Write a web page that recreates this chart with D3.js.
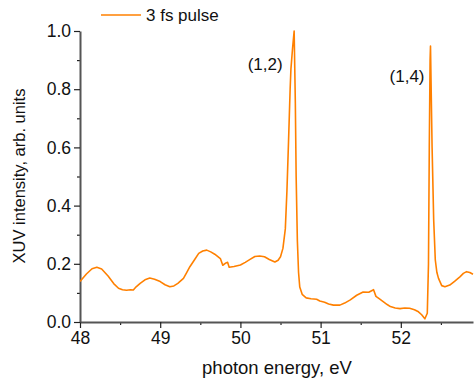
<!DOCTYPE html>
<html>
<head>
<meta charset="utf-8">
<script src="https://cdn.jsdelivr.net/npm/d3@7"></script>
<style>
  body { margin: 0; background: #fff; }
  svg { font-family: "Liberation Sans", Arial, sans-serif; }
</style>
</head>
<body>
<div id="chart"></div>
<script>
// photon energy (eV) and XUV intensity (arb. units)
const energy = [
  48.00, 48.08, 48.15, 48.21, 48.27, 48.35, 48.42, 48.48, 48.53, 48.58,
  48.63, 48.665, 48.70, 48.75, 48.81, 48.87, 48.93, 49.00, 49.06, 49.12,
  49.17, 49.22, 49.29, 49.33, 49.37, 49.43, 49.48, 49.53, 49.58, 49.63,
  49.68, 49.75, 49.78, 49.82, 49.84, 49.86, 49.92, 50.00, 50.06, 50.12,
  50.18, 50.24, 50.30, 50.36, 50.43, 50.47, 50.50, 50.53, 50.56, 50.58,
  50.60, 50.62, 50.63, 50.65, 50.67, 50.685, 50.695, 50.71, 50.725, 50.74,
  50.77, 50.82, 50.88, 50.95, 50.99, 51.05, 51.10, 51.16, 51.24, 51.30,
  51.37, 51.45, 51.53, 51.60, 51.66, 51.69, 51.73, 51.78, 51.83, 51.87,
  51.93, 51.99, 52.05, 52.11, 52.17, 52.22, 52.26, 52.30, 52.33, 52.345,
  52.355, 52.365, 52.37, 52.39, 52.41, 52.43, 52.45, 52.47, 52.51, 52.55,
  52.61, 52.67, 52.74, 52.78, 52.82, 52.86, 52.90
];
const intensity = [
  0.139, 0.165, 0.183, 0.188, 0.182, 0.158, 0.132, 0.116, 0.111, 0.109,
  0.111, 0.110, 0.121, 0.133, 0.145, 0.151, 0.147, 0.139, 0.128, 0.121,
  0.124, 0.133, 0.150, 0.170, 0.190, 0.215, 0.236, 0.244, 0.247, 0.241,
  0.233, 0.218, 0.195, 0.203, 0.205, 0.188, 0.191, 0.196, 0.205, 0.215,
  0.225, 0.227, 0.224, 0.215, 0.206, 0.212, 0.224, 0.253, 0.320, 0.450,
  0.620, 0.800, 0.870, 0.940, 1.000, 0.750, 0.500, 0.280, 0.170, 0.120,
  0.095, 0.083, 0.080, 0.078, 0.072, 0.068, 0.062, 0.058, 0.058, 0.065,
  0.076, 0.092, 0.103, 0.102, 0.111, 0.088, 0.080, 0.070, 0.060, 0.053,
  0.048, 0.046, 0.048, 0.047, 0.042, 0.035, 0.025, 0.011, 0.030, 0.200,
  0.600, 0.900, 0.948, 0.600, 0.350, 0.213, 0.170, 0.150, 0.125, 0.121,
  0.127, 0.140, 0.156, 0.167, 0.173, 0.170, 0.164
];
const xTicks = [48, 49, 50, 51, 52];
const yTicks = [0.0, 0.2, 0.4, 0.6, 0.8, 1.0];
const peakLabels = ["(1,2)", "(1,4)"];
const peakLabelPos = [[50.09, 0.866], [51.86, 0.825]];
const seriesName = "3 fs pulse";

const width = 474;
const height = 382;
const margin = { top: 31, right: 1, bottom: 60, left: 80 };
const lineColor = "#ff8000";
const axisColor = "#555";

const svg = d3.select("#chart")
  .append("svg")
  .attr("width", width)
  .attr("height", height);

const x = d3.scaleLinear()
  .domain([48, 52.9])
  .range([margin.left, width - margin.right]);

const y = d3.scaleLinear()
  .domain([0, 1])
  .range([height - margin.bottom, margin.top]);

// minor ticks first, then major ticks with labels
const xMinor = d3.range(48.5, 52.9, 1);
const yMinor = d3.range(0.1, 1.0, 0.2);

svg.append("g")
  .attr("transform", "translate(0," + y(0) + ")")
  .call(d3.axisBottom(x).tickValues(xMinor).tickSize(3).tickFormat(""))
  .call(g => g.select(".domain").remove())
  .selectAll("line").attr("stroke", "#222").attr("stroke-width", 1.2);

svg.append("g")
  .attr("transform", "translate(" + x(48) + ",0)")
  .call(d3.axisLeft(y).tickValues(yMinor).tickSize(3).tickFormat(""))
  .call(g => g.select(".domain").remove())
  .selectAll("line").attr("stroke", "#222").attr("stroke-width", 1.2);

const xAxis = svg.append("g")
  .attr("transform", "translate(0," + y(0) + ")")
  .call(d3.axisBottom(x).tickValues(xTicks).tickSize(6).tickPadding(4).tickFormat(d3.format("d")).tickSizeOuter(0));

const yAxis = svg.append("g")
  .attr("transform", "translate(" + x(48) + ",0)")
  .call(d3.axisLeft(y).tickValues(yTicks).tickSize(6).tickPadding(3).tickFormat(d3.format(".1f")).tickSizeOuter(0));

[xAxis, yAxis].forEach(g => {
  g.select(".domain").attr("stroke", axisColor).attr("stroke-width", 2);
  g.selectAll(".tick line").attr("stroke", "#222").attr("stroke-width", 1.2);
  g.selectAll(".tick text")
    .attr("fill", "#111")
    .style("font-size", "17.5px")
    .style("font-family", "'Liberation Sans', Arial, sans-serif");
});

svg.append("clipPath")
  .attr("id", "plot-clip")
  .append("rect")
  .attr("x", margin.left)
  .attr("y", 0)
  .attr("width", width - margin.left)
  .attr("height", y(0));

const points = energy.map((e, i) => [e, intensity[i]]);

const line = d3.line()
  .x(d => x(d[0]))
  .y(d => y(d[1]));

svg.append("path")
  .datum(points)
  .attr("clip-path", "url(#plot-clip)")
  .attr("fill", "none")
  .attr("stroke", lineColor)
  .attr("stroke-width", 1.6)
  .attr("stroke-linejoin", "round")
  .attr("d", line);

// peak annotations
svg.selectAll(".peak-label")
  .data(peakLabels)
  .enter().append("text")
  .attr("class", "peak-label")
  .attr("x", (d, i) => x(peakLabelPos[i][0]))
  .attr("y", (d, i) => y(peakLabelPos[i][1]))
  .attr("text-anchor", "start")
  .style("font-size", "17px")
  .attr("fill", "#111")
  .text(d => d);

// legend
const legend = svg.append("g")
  .attr("transform", "translate(101,15)");

legend.append("line")
  .attr("x1", 0)
  .attr("x2", 40)
  .attr("y1", 0)
  .attr("y2", 0)
  .attr("stroke", lineColor)
  .attr("stroke-width", 1.6);

legend.append("text")
  .attr("x", 45)
  .attr("y", 6)
  .style("font-size", "17px")
  .attr("fill", "#111")
  .text(seriesName);

// axis titles
svg.append("text")
  .attr("x", 277)
  .attr("y", 374)
  .attr("text-anchor", "middle")
  .style("font-size", "18.5px")
  .attr("fill", "#111")
  .text("photon energy, eV");

svg.append("text")
  .attr("transform", "translate(25,176) rotate(-90)")
  .attr("text-anchor", "middle")
  .style("font-size", "16.5px")
  .attr("fill", "#111")
  .text("XUV intensity, arb. units");
</script>
</body>
</html>
